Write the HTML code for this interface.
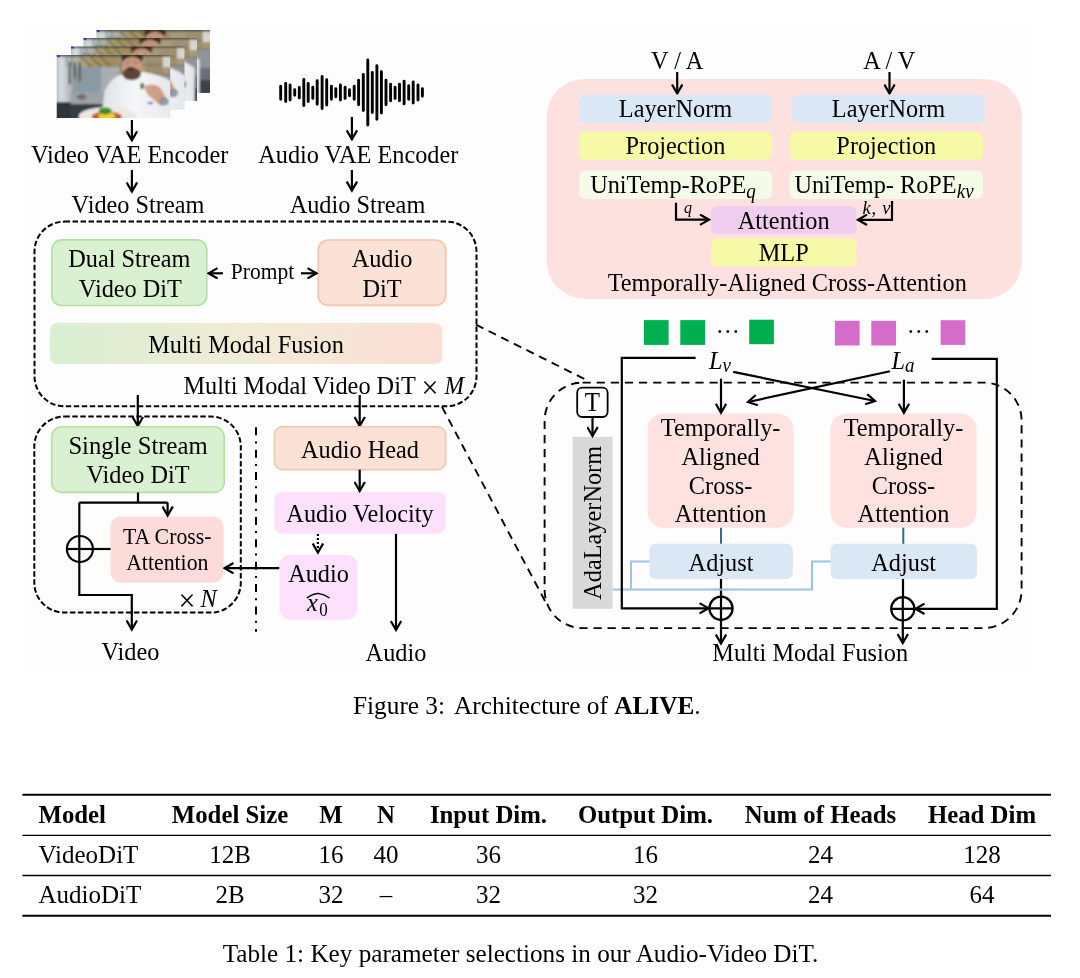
<!DOCTYPE html>
<html><head><meta charset="utf-8"><style>
html,body{margin:0;padding:0;background:#fff;}
body{width:1080px;height:978px;overflow:hidden;position:relative;}
svg{position:absolute;left:0;top:0;will-change:transform;}
text{font-family:"Liberation Serif",serif;fill:#000;}
</style></head><body>
<svg width="1080" height="978" viewBox="0 0 1080 978">
<defs>
<marker id="ah" viewBox="0 0 12 12" refX="10" refY="6" markerWidth="12" markerHeight="12" markerUnits="userSpaceOnUse" orient="auto">
<path d="M1 0.8L10 6L1 11.2" fill="none" stroke="#000" stroke-width="2.2"/>
</marker>
<linearGradient id="mmf" x1="0" x2="1" y1="0" y2="0">
<stop offset="0" stop-color="#d8efd1"/><stop offset="0.5" stop-color="#f1ebd6"/><stop offset="1" stop-color="#fcdfd5"/>
</linearGradient>
</defs>
<!-- faint figure background -->
<rect x="23.2" y="25.9" width="1007.5" height="644.1" fill="#fdfdfd"/>

<!-- PHOTO placeholder -->
<g id="photo">
<defs>
<clipPath id="fc"><rect x="0" y="0" width="113.5" height="63"/></clipPath>
<filter id="pb" x="-5%" y="-5%" width="110%" height="110%"><feGaussianBlur stdDeviation="0.8"/></filter>
<linearGradient id="hood" x1="0" x2="1" y1="0" y2="0"><stop offset="0" stop-color="#b0b8b6"/><stop offset="0.18" stop-color="#aeb2a6"/><stop offset="0.3" stop-color="#a89664"/><stop offset="0.5" stop-color="#a08c5e"/><stop offset="0.6" stop-color="#9c9278"/></linearGradient>
<linearGradient id="fridge" x1="0" x2="1" y1="0" y2="0"><stop offset="0" stop-color="#a9b5bb"/><stop offset="0.35" stop-color="#d6dee1"/><stop offset="1" stop-color="#a2aeb3"/></linearGradient>
<linearGradient id="coat" x1="0" x2="1" y1="0" y2="0"><stop offset="0" stop-color="#dde0e5"/><stop offset="0.45" stop-color="#f6f7f9"/><stop offset="1" stop-color="#e4e6ea"/></linearGradient>
<g id="bg">
<rect x="0" y="0" width="113.5" height="63" fill="#959ca0"/>
<rect x="-2" y="-2" width="118" height="16" fill="url(#hood)"/>
<path d="M24 2L36 13M34 2L46 13M44 2L54 12" stroke="#6a6250" stroke-width="1.3"/>
<rect x="62" y="-2" width="54" height="22" fill="#a89a7a"/>
<path d="M64 3V19M67 3V19M70 3V19M73 3V19M90 3V19M93 3V19M96 3V19M99 3V19M102 3V19M105 3V19" stroke="#857658" stroke-width="1"/>
<path d="M62 10H116M62 19H116" stroke="#7a6e58" stroke-width="1.2"/>
<rect x="106" y="-2" width="10" height="14" fill="#d8d6cc"/>
<rect x="62" y="20" width="54" height="18" fill="#8e9499"/>
<rect x="62" y="38" width="54" height="12" fill="#6a7076"/>
<rect x="62" y="50" width="54" height="14" fill="#3c4046"/>
<rect x="16" y="12" width="30" height="27" fill="#899aa3"/>
<rect x="44" y="12" width="19" height="28" fill="#a8adb0"/>
<rect x="-2" y="-2" width="18" height="50" fill="url(#fridge)"/>
<path d="M10 0V12M15 0V12" stroke="#6f8a88" stroke-width="1"/>
<rect x="-2" y="47" width="20" height="18" fill="#2d343c"/>
<rect x="14" y="37" width="36" height="13" fill="#9da2a5"/>
<rect x="14" y="49" width="36" height="16" fill="#363c44"/>
<ellipse cx="25" cy="42" rx="5" ry="3" fill="#6e7276"/>
<path d="M13 7V27M18 7V23M23 7V25" stroke="#555048" stroke-width="2"/>
<ellipse cx="13" cy="27" rx="2" ry="2.5" fill="#8a7458"/>
<ellipse cx="23" cy="25" rx="2" ry="2.5" fill="#8a7458"/>
<rect x="-2" y="-2" width="118" height="3.5" fill="#454a44"/>
</g>
<g id="chef">
<path d="M44 64L48 36Q54 22 66 19L86 17Q108 20 120 30V64Z" fill="url(#coat)"/>
<ellipse cx="75.5" cy="3" rx="11" ry="6" fill="#3a2c24"/>
<ellipse cx="75.5" cy="12" rx="9.8" ry="10.2" fill="#c99b80"/>
<ellipse cx="75.5" cy="5.5" rx="8.5" ry="3" fill="#c29478"/>
<ellipse cx="75" cy="19" rx="9.3" ry="6.2" fill="#5c4434"/>
<ellipse cx="74" cy="13.5" rx="4" ry="1.6" fill="#3a2a22"/>
<ellipse cx="71" cy="8.5" rx="1.6" ry="0.8" fill="#8a6a58"/>
<ellipse cx="79" cy="8.5" rx="1.6" ry="0.8" fill="#8a6a58"/>
<path d="M88 31Q97 27 104 33L111 46L104 51L95 43Q88 38 88 31Z" fill="#cf9f86"/>
<ellipse cx="107.5" cy="46.5" rx="3.8" ry="3.3" fill="#8ea4bc" stroke="#585f68" stroke-width="1"/>
<ellipse cx="85.5" cy="31" rx="2" ry="3.2" fill="#3b7d22"/>
<rect x="91" y="47" width="5" height="2" fill="#4050b0"/>
<ellipse cx="51" cy="61.5" rx="29" ry="9.5" fill="#ede7e1"/>
<ellipse cx="50" cy="62" rx="15" ry="5.6" fill="#c25a32"/>
<ellipse cx="50" cy="61" rx="8.5" ry="4" fill="#f2d428"/>
<ellipse cx="48.5" cy="56" rx="6.5" ry="3.4" fill="#3c8a2a"/>
</g>
</defs>
<g transform="translate(96.5,30)" clip-path="url(#fc)"><g filter="url(#pb)"><use href="#bg"/><use href="#chef" transform="translate(-17,0)"/></g><rect width="3" height="2" fill="#2a38c0"/></g>
<g transform="translate(83.5,38)" clip-path="url(#fc)"><g filter="url(#pb)"><use href="#bg"/><use href="#chef" transform="translate(-9,0)"/></g><rect width="3" height="2" fill="#2a38c0"/></g>
<g transform="translate(71,46.5)" clip-path="url(#fc)"><g filter="url(#pb)"><use href="#bg"/><use href="#chef" transform="translate(-5,0)"/></g><rect width="3" height="2" fill="#2a38c0"/></g>
<g transform="translate(56.7,55)" clip-path="url(#fc)"><g filter="url(#pb)"><use href="#bg"/><use href="#chef"/></g><rect width="3" height="2" fill="#2a38c0"/></g>
</g>

<!-- waveform -->
<path d="M280.7 86.1V99.2M285.7 83.5V101.5M290.1 85.0V100.0M294.7 89.8V95.2M299.3 87.4V97.9M303.8 79.5V105.5M308.2 83.5V101.5M312.8 87.1V98.4M317.2 80.8V104.2M322.1 76.4V108.6M326.7 79.8V105.0M331.4 86.1V99.2M335.8 88.7V96.8M340.4 85.0V100.0M345.1 87.1V98.4M349.5 89.8V95.7M354.2 86.1V99.2M358.6 80.3V104.7M363.3 74.5V110.5M367.8 59.9V125.1M372.3 72.5V112.5M376.9 65.7V119.3M381.4 71.7V113.0M386.0 80.3V104.7M390.6 84.3V100.7M395.1 87.1V98.4M399.5 84.3V100.7M404.1 81.1V103.9M408.7 85.8V99.2M413.2 81.9V103.1M418.0 85.0V100.0M422.4 88.7V96.3" stroke="#000" stroke-width="2.9" stroke-linecap="round" fill="none"/>

<g stroke="#000" stroke-width="2.2" fill="none">
<!-- top-left arrows -->
<path d="M131.9 120V140.3" marker-end="url(#ah)"/>
<path d="M131.9 170V191.5" marker-end="url(#ah)"/>
<path d="M351.9 117V139.3" marker-end="url(#ah)"/>
<path d="M351.9 170V190.5" marker-end="url(#ah)"/>
</g>
<g font-size="24.3">
<text x="129.7" y="162.8" text-anchor="middle" transform="matrix(1 0 0 1.050 0 -7.440)">Video VAE Encoder</text>
<text x="138" y="212.3" text-anchor="middle" transform="matrix(1 0 0 1.050 0 -9.915)">Video Stream</text>
<text x="358.3" y="162.4" text-anchor="middle" transform="matrix(1 0 0 1.050 0 -7.420)">Audio VAE Encoder</text>
<text x="357.5" y="212.3" text-anchor="middle" transform="matrix(1 0 0 1.050 0 -9.915)">Audio Stream</text>
</g>

<!-- main dashed box -->
<rect x="34.5" y="221.6" width="442" height="184.7" rx="30" fill="none" stroke="#000" stroke-width="2" stroke-dasharray="5.5 2.5"/>
<rect x="51.8" y="239.9" width="155" height="65.6" rx="10" fill="#d9f1d0" stroke="#b2e1a3" stroke-width="1.6"/>
<rect x="318.2" y="240" width="127.5" height="65.4" rx="10" fill="#fbe1d6" stroke="#f4c5ab" stroke-width="1.6"/>
<g font-size="24.3" text-anchor="middle">
<text x="129.3" y="266.4" transform="matrix(1 0 0 1.050 0 -12.620)">Dual Stream</text>
<text x="130.4" y="296" transform="matrix(1 0 0 1.050 0 -14.100)">Video DiT</text>
<text x="382" y="266.4" transform="matrix(1 0 0 1.050 0 -12.620)">Audio</text>
<text x="382" y="296" transform="matrix(1 0 0 1.050 0 -14.100)">DiT</text>
</g>
<text x="262.5" y="278.6" font-size="21.5" text-anchor="middle" transform="matrix(1 0 0 1.050 0 -13.230)">Prompt</text>
<g stroke="#000" stroke-width="2.2" fill="none">
<path d="M223 273.3H208.5" marker-end="url(#ah)"/>
<path d="M301 273.3H316.5" marker-end="url(#ah)"/>
</g>
<rect x="50" y="322.9" width="392.3" height="41.2" rx="7" fill="url(#mmf)"/>
<text x="246" y="351.9" font-size="24.3" text-anchor="middle" transform="matrix(1 0 0 1.050 0 -16.895)">Multi Modal Fusion</text>
<text x="183.5" y="393.8" font-size="24.3" transform="matrix(1 0 0 1.050 0 -18.990)">Multi Modal Video DiT</text>
<text x="421.5" y="397" font-size="30" transform="matrix(1 0 0 1.050 0 -19.150)">×</text>
<text x="444.5" y="393.8" font-size="23.5" font-style="italic" transform="matrix(1 0 0 1.050 0 -18.990)">M</text>

<!-- arrows out of main box -->
<g stroke="#000" stroke-width="2.2" fill="none">
<path d="M137.8 395V426" marker-end="url(#ah)"/>
<path d="M359.7 395V426" marker-end="url(#ah)"/>
</g>

<!-- single stream dashed box -->
<rect x="34.3" y="416.6" width="206.5" height="196" rx="30" fill="none" stroke="#000" stroke-width="2" stroke-dasharray="5.5 2.5"/>
<rect x="51.7" y="426.8" width="172.5" height="65.6" rx="10" fill="#d9f1d0" stroke="#b2e1a3" stroke-width="1.6"/>
<g font-size="24.3" text-anchor="middle">
<text x="138" y="453" font-size="24.7" transform="matrix(1 0 0 1.050 0 -21.950)">Single Stream</text>
<text x="138" y="482.8" transform="matrix(1 0 0 1.050 0 -23.440)">Video DiT</text>
</g>
<rect x="110.5" y="516.4" width="113.1" height="66.3" rx="11" fill="#fcdcd8"/>
<g font-size="21.8" text-anchor="middle">
<text x="167.3" y="543.6" transform="matrix(1 0 0 1.050 0 -26.480)">TA Cross-</text>
<text x="167.3" y="569.8" transform="matrix(1 0 0 1.050 0 -27.790)">Attention</text>
</g>
<text x="178.5" y="610.3" font-size="30" transform="matrix(1 0 0 1.050 0 -29.815)">×</text>
<text x="200.5" y="606.7" font-size="24.3" font-style="italic" transform="matrix(1 0 0 1.050 0 -29.635)">N</text>
<g stroke="#000" stroke-width="2.2" fill="none">
<path d="M138 492.4V502.6M79.3 502.6H167.6"/>
<path d="M167.6 502.6V515.5" marker-end="url(#ah)"/>
<path d="M79.3 502.6V595H131.8V629.5" marker-end="url(#ah)"/>
<circle cx="79.9" cy="549" r="13"/>
<path d="M66.9 549H92.9"/>
<path d="M92.9 549H110.5"/>
<path d="M279.5 568.2H224.5" marker-end="url(#ah)"/>
</g>
<text x="130.4" y="659.4" font-size="24.3" text-anchor="middle" transform="matrix(1 0 0 1.050 0 -32.270)">Video</text>
<path d="M256 427.3V631.8" stroke="#000" stroke-width="2" stroke-dasharray="8 6.2 2 6.2" fill="none"/>

<!-- audio column -->
<rect x="274.4" y="426.7" width="171.2" height="42.9" rx="8" fill="#fbe1d6" stroke="#f4c5ab" stroke-width="1.6"/>
<text x="360" y="457.3" font-size="24.3" text-anchor="middle" transform="matrix(1 0 0 1.050 0 -22.165)">Audio Head</text>
<rect x="274.4" y="491.7" width="171.2" height="42.1" rx="8" fill="#fde0fb"/>
<text x="360" y="521.7" font-size="24.3" text-anchor="middle" transform="matrix(1 0 0 1.050 0 -25.385)">Audio Velocity</text>
<rect x="279.5" y="554.7" width="77.9" height="65" rx="11" fill="#fde0fb"/>
<text x="318.5" y="581" font-size="24.3" text-anchor="middle" transform="matrix(1 0 0 1.050 0 -28.350)">Audio</text>
<text x="307" y="610.5" font-size="24.3" font-style="italic" transform="matrix(1 0 0 1.050 0 -29.825)">x<tspan font-style="normal" font-size="17" dx="1.5" dy="4.5">0</tspan></text>
<path d="M306.8 598Q312 594 318 593.4Q324 594 329.6 598" stroke="#000" stroke-width="1.4" fill="none"/>
<g stroke="#000" stroke-width="2.2" fill="none">
<path d="M359.7 469.6V491" marker-end="url(#ah)"/>
<path d="M396 533.8V630" marker-end="url(#ah)"/>
<path d="M317.9 534V552.5" stroke-dasharray="2 2" marker-end="url(#ah)"/>
</g>
<text x="396" y="660.6" font-size="24.3" text-anchor="middle" transform="matrix(1 0 0 1.050 0 -32.330)">Audio</text>

<!-- connecting diagonals -->
<g stroke="#000" stroke-width="1.9" stroke-dasharray="8.2 5.9" fill="none">
<path d="M476 324.7L586.2 379.9"/>
<path d="M442 406.9L545 601"/>
</g>

<!-- top right big pink -->
<rect x="546.7" y="78.9" width="475.3" height="220.1" rx="38" fill="#fde1de"/>
<g font-size="24.3" text-anchor="middle">
<text x="677.2" y="68.5" transform="matrix(1 0 0 1.050 0 -2.725)">V / A</text>
<text x="889.3" y="68.5" transform="matrix(1 0 0 1.050 0 -2.725)">A / V</text>
</g>
<g stroke="#000" stroke-width="2.2" fill="none">
<path d="M677.2 72V93.5" marker-end="url(#ah)"/>
<path d="M889.5 72V93.5" marker-end="url(#ah)"/>
</g>
<rect x="579.2" y="94.5" width="192.6" height="28.2" rx="6" fill="#dae7f5"/>
<rect x="792" y="94.5" width="193.1" height="28.2" rx="6" fill="#dae7f5"/>
<rect x="579.2" y="131.8" width="192.6" height="28.2" rx="6" fill="#f6f9a6"/>
<rect x="789.6" y="131.8" width="193.4" height="28.2" rx="6" fill="#f6f9a6"/>
<rect x="579.2" y="170.8" width="192.6" height="28.2" rx="6" fill="#f4fbe6"/>
<rect x="789.6" y="170.8" width="193.4" height="28.2" rx="6" fill="#f4fbe6"/>
<rect x="711" y="206" width="145.5" height="28" rx="6" fill="#efcdee"/>
<rect x="711" y="238.5" width="145.5" height="27.9" rx="6" fill="#f6f9a6"/>
<g font-size="24.3" text-anchor="middle">
<text x="675.5" y="116" transform="matrix(1 0 0 1.050 0 -5.100)">LayerNorm</text>
<text x="888.5" y="116" transform="matrix(1 0 0 1.050 0 -5.100)">LayerNorm</text>
<text x="675.5" y="153" transform="matrix(1 0 0 1.050 0 -6.950)">Projection</text>
<text x="886.3" y="153" transform="matrix(1 0 0 1.050 0 -6.950)">Projection</text>
<text x="673" y="192" transform="matrix(1 0 0 1.050 0 -8.900)">UniTemp-RoPE<tspan font-style="italic" font-size="19" dy="5">q</tspan></text>
<text x="884" y="192" font-size="24.3" transform="matrix(1 0 0 1.050 0 -8.900)">UniTemp- RoPE<tspan font-style="italic" font-size="19" dy="5">kv</tspan></text>
<text x="783.7" y="228" transform="matrix(1 0 0 1.050 0 -10.700)">Attention</text>
<text x="783.7" y="260.8" transform="matrix(1 0 0 1.050 0 -12.340)">MLP</text>
<text x="787.3" y="290" transform="matrix(1 0 0 1.050 0 -13.800)">Temporally-Aligned Cross-Attention</text>
</g>
<g font-size="16" font-style="italic">
<text x="684" y="212.5" transform="matrix(1 0 0 1.050 0 -9.925)">q</text>
<text x="862.5" y="213.5" font-size="18.5" letter-spacing="0.8" transform="matrix(1 0 0 1.050 0 -9.975)">k, v</text>
</g>
<g stroke="#000" stroke-width="2.2" fill="none">
<path d="M676 202.8V219.7H709" marker-end="url(#ah)"/>
<path d="M892 201V219.8H858" marker-end="url(#ah)"/>
</g>

<!-- tokens -->
<g fill="#00b050">
<rect x="643.9" y="320.1" width="24.7" height="24.8"/>
<rect x="680.3" y="320.1" width="24.8" height="24.8"/>
<rect x="749.2" y="319.7" width="24.7" height="24.5"/>
</g>
<g fill="#d56cc9">
<rect x="834.9" y="320.8" width="24.7" height="24.7"/>
<rect x="871.3" y="320.8" width="24.7" height="24.7"/>
<rect x="940.6" y="320.2" width="24.7" height="24.7"/>
</g>
<g font-size="24.3" text-anchor="middle">
<text x="727.8" y="339.3" transform="matrix(1 0 0 1.050 0 -16.265)">···</text>
<text x="918.8" y="339.3" transform="matrix(1 0 0 1.050 0 -16.265)">···</text>
</g>
<g font-size="24.3" font-style="italic">
<text x="709" y="368" transform="matrix(1 0 0 1.050 0 -17.700)">L<tspan font-size="19" dy="3.5">v</tspan></text>
<text x="891.5" y="368" transform="matrix(1 0 0 1.050 0 -17.700)">L<tspan font-size="19" dy="3.5">a</tspan></text>
</g>

<!-- right dashed box -->
<rect x="544.6" y="382.6" width="477" height="245.5" rx="38" fill="none" stroke="#000" stroke-width="1.9" stroke-dasharray="8.2 5.9"/>

<rect x="577.2" y="387.7" width="30.4" height="29.3" rx="5" fill="#fff" stroke="#000" stroke-width="1.8"/>
<text x="592.4" y="410.5" font-size="25" text-anchor="middle" transform="matrix(1 0 0 1.050 0 -19.825)">T</text>
<rect x="572.5" y="436.8" width="40.2" height="172" fill="#d9d9d9"/>
<text transform="translate(600.5,522.8) rotate(-90)" font-size="24.3" text-anchor="middle">AdaLayerNorm</text>

<rect x="647.7" y="413.5" width="145.8" height="114.2" rx="16" fill="#fde2df"/>
<rect x="830.4" y="413.5" width="146.2" height="114.2" rx="16" fill="#fde2df"/>
<g font-size="24.3" text-anchor="middle">
<text x="720.6" y="434.9" transform="matrix(1 0 0 1.050 0 -21.045)">Temporally-</text>
<text x="720.6" y="464.1" transform="matrix(1 0 0 1.050 0 -22.505)">Aligned</text>
<text x="720.6" y="493.4" transform="matrix(1 0 0 1.050 0 -23.970)">Cross-</text>
<text x="720.6" y="521.5" transform="matrix(1 0 0 1.050 0 -25.375)">Attention</text>
<text x="903.5" y="434.9" transform="matrix(1 0 0 1.050 0 -21.045)">Temporally-</text>
<text x="903.5" y="464.1" transform="matrix(1 0 0 1.050 0 -22.505)">Aligned</text>
<text x="903.5" y="493.4" transform="matrix(1 0 0 1.050 0 -23.970)">Cross-</text>
<text x="903.5" y="521.5" transform="matrix(1 0 0 1.050 0 -25.375)">Attention</text>
</g>
<rect x="649.5" y="543.8" width="143.3" height="35.2" rx="6" fill="#dae7f5"/>
<rect x="830.6" y="543.8" width="146.3" height="35.2" rx="6" fill="#dae7f5"/>
<g font-size="24.3" text-anchor="middle">
<text x="721" y="570" transform="matrix(1 0 0 1.050 0 -27.800)">Adjust</text>
<text x="903.7" y="570" transform="matrix(1 0 0 1.050 0 -27.800)">Adjust</text>
</g>
<g stroke="#2b6f8c" stroke-width="2" fill="none">
<path d="M721 527.7V543.8"/>
<path d="M903.3 527.7V543.8"/>
</g>
<g stroke="#9dc3e6" stroke-width="2" fill="none">
<path d="M612.7 589.6H812V561.4H830.6"/>
<path d="M631 589.6V561.4H649.5"/>
</g>
<g stroke="#000" stroke-width="2.2" fill="none">
<path d="M721 579V596.8"/>
<path d="M903 579V597.3"/>
<circle cx="721" cy="608.3" r="11.6"/>
<path d="M709.4 608.3H732.6M721 596.7V619.9"/>
<circle cx="902.8" cy="608.8" r="11.6"/>
<path d="M891.2 608.8H914.4M902.8 597.2V620.4"/>
<path d="M695.6 357.9H621.8V608.3H708.5" marker-end="url(#ah)"/>
<path d="M931.6 358.8H996.8V608.8H915.5" marker-end="url(#ah)"/>
<path d="M721 620V643.5" marker-end="url(#ah)"/>
<path d="M902.8 620.5V643" marker-end="url(#ah)"/>
<path d="M721 378.6V412.8" marker-end="url(#ah)"/>
<path d="M903.9 379.7V412.8" marker-end="url(#ah)"/>
<path d="M733.2 371.9L875 401" marker-end="url(#ah)"/>
<path d="M890 371.2L748 402" marker-end="url(#ah)"/>
<path d="M592.5 417V436" marker-end="url(#ah)"/>
</g>
<path d="M713 589.6H729" stroke="#9dc3e6" stroke-width="2"/>
<text x="810.2" y="660" font-size="24.3" text-anchor="middle" transform="matrix(1 0 0 1.050 0 -32.300)">Multi Modal Fusion</text>

<!-- captions -->
<text x="353" y="713.7" font-size="25.3">Figure 3:<tspan dx="9">Architecture of </tspan><tspan font-weight="bold">ALIVE</tspan>.</text>

<!-- table -->
<g stroke="#000" fill="none">
<path d="M22.4 794.8H1051" stroke-width="2"/>
<path d="M22.4 835.3H1051" stroke-width="1.3"/>
<path d="M22.4 875.5H1051" stroke-width="1.3"/>
<path d="M22.4 915.7H1051" stroke-width="2"/>
</g>
<g font-size="24.8" font-weight="bold">
<text x="38.5" y="822.5">Model</text>
<text x="230" y="822.5" text-anchor="middle">Model Size</text>
<text x="331" y="822.5" text-anchor="middle">M</text>
<text x="386" y="822.5" text-anchor="middle">N</text>
<text x="488.5" y="822.5" text-anchor="middle">Input Dim.</text>
<text x="645.5" y="822.5" text-anchor="middle">Output Dim.</text>
<text x="820.5" y="822.5" text-anchor="middle">Num of Heads</text>
<text x="982" y="822.5" text-anchor="middle">Head Dim</text>
</g>
<g font-size="25">
<text x="38.5" y="862.7">VideoDiT</text>
<text x="230" y="862.7" text-anchor="middle">12B</text>
<text x="331" y="862.7" text-anchor="middle">16</text>
<text x="386" y="862.7" text-anchor="middle">40</text>
<text x="488.5" y="862.7" text-anchor="middle">36</text>
<text x="645.5" y="862.7" text-anchor="middle">16</text>
<text x="820.5" y="862.7" text-anchor="middle">24</text>
<text x="982" y="862.7" text-anchor="middle">128</text>
<text x="38.5" y="903.1">AudioDiT</text>
<text x="230" y="903.1" text-anchor="middle">2B</text>
<text x="331" y="903.1" text-anchor="middle">32</text>
<text x="386" y="903.1" text-anchor="middle">–</text>
<text x="488.5" y="903.1" text-anchor="middle">32</text>
<text x="645.5" y="903.1" text-anchor="middle">32</text>
<text x="820.5" y="903.1" text-anchor="middle">24</text>
<text x="982" y="903.1" text-anchor="middle">64</text>
</g>
<text x="520.5" y="962" font-size="25.2" text-anchor="middle">Table 1: Key parameter selections in our Audio-Video DiT.</text>
</svg>
</body></html>
